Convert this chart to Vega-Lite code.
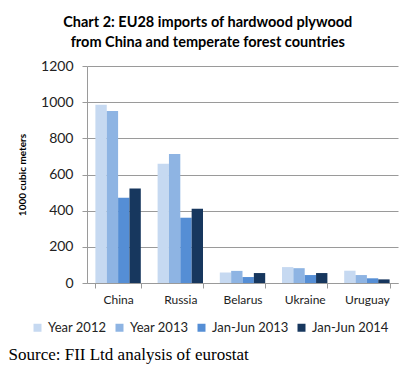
{
  "$schema": "https://vega.github.io/schema/vega-lite/v6.json",
  "autosize": {"type": "pad"},
  "padding": {"left": 8, "top": 14, "right": 5, "bottom": 5},
  "background": "white",
  "title": {
    "text": "Source: FII Ltd analysis of eurostat",
    "orient": "bottom",
    "anchor": "start",
    "frame": "bounds",
    "dx": -9,
    "offset": 12,
    "font": "Liberation Serif",
    "fontSize": 17,
    "fontWeight": "normal",
    "color": "black"
  },
  "data": {
    "values": [
      {"country": "China", "period": "Year 2012", "value": 986},
      {"country": "China", "period": "Year 2013", "value": 951},
      {"country": "China", "period": "Jan-Jun 2013", "value": 472},
      {"country": "China", "period": "Jan-Jun 2014", "value": 522},
      {"country": "Russia", "period": "Year 2012", "value": 660},
      {"country": "Russia", "period": "Year 2013", "value": 713},
      {"country": "Russia", "period": "Jan-Jun 2013", "value": 361},
      {"country": "Russia", "period": "Jan-Jun 2014", "value": 411},
      {"country": "Belarus", "period": "Year 2012", "value": 58},
      {"country": "Belarus", "period": "Year 2013", "value": 67},
      {"country": "Belarus", "period": "Jan-Jun 2013", "value": 33},
      {"country": "Belarus", "period": "Jan-Jun 2014", "value": 55},
      {"country": "Ukraine", "period": "Year 2012", "value": 88},
      {"country": "Ukraine", "period": "Year 2013", "value": 82},
      {"country": "Ukraine", "period": "Jan-Jun 2013", "value": 44},
      {"country": "Ukraine", "period": "Jan-Jun 2014", "value": 55},
      {"country": "Uruguay", "period": "Year 2012", "value": 68},
      {"country": "Uruguay", "period": "Year 2013", "value": 44},
      {"country": "Uruguay", "period": "Jan-Jun 2013", "value": 26},
      {"country": "Uruguay", "period": "Jan-Jun 2014", "value": 20}
    ]
  },
  "vconcat": [
    {
      "width": 311,
      "height": 217,
      "title": {
        "text": ["Chart 2: EU28 imports of hardwood plywood", "from China and temperate forest countries"],
        "anchor": "middle",
        "frame": "bounds",
        "font": "Lato",
        "fontSize": 14.5,
        "fontWeight": "bold",
        "color": "black",
        "lineHeight": 20,
        "offset": 9
      },
      "mark": {"type": "bar"},
      "encoding": {
        "x": {
          "field": "country",
          "type": "nominal",
          "sort": ["China", "Russia", "Belarus", "Ukraine", "Uruguay"],
          "scale": {"paddingInner": 0.27, "paddingOuter": 0.135},
          "axis": {
            "title": null,
            "labelAngle": 0,
            "tickBand": "extent",
            "ticks": true,
            "tickSize": 5,
            "tickColor": "#9a9a9a",
            "domainColor": "#9a9a9a",
            "labelFont": "Lato",
            "labelFontSize": 12,
            "labelColor": "#222222",
            "labelPadding": 6,
            "grid": false
          }
        },
        "xOffset": {
          "field": "period",
          "type": "nominal",
          "sort": ["Year 2012", "Year 2013", "Jan-Jun 2013", "Jan-Jun 2014"],
          "scale": {"paddingInner": 0, "paddingOuter": 0}
        },
        "y": {
          "field": "value",
          "type": "quantitative",
          "scale": {"domain": [0, 1200]},
          "axis": {
            "title": "1000 cubic meters",
            "titleFont": "Lato",
            "titleFontSize": 10,
            "titleFontWeight": "bold",
            "titleColor": "black",
            "titlePadding": 13,
            "values": [0, 200, 400, 600, 800, 1000, 1200],
            "format": "d",
            "labelFont": "Lato",
            "labelFontSize": 14,
            "labelColor": "#222222",
            "labelPadding": 9,
            "tickSize": 5,
            "tickColor": "#9a9a9a",
            "domainColor": "#9a9a9a",
            "gridColor": "#9a9a9a",
            "grid": true
          }
        },
        "color": {
          "field": "period",
          "type": "nominal",
          "sort": ["Year 2012", "Year 2013", "Jan-Jun 2013", "Jan-Jun 2014"],
          "scale": {
            "domain": ["Year 2012", "Year 2013", "Jan-Jun 2013", "Jan-Jun 2014"],
            "range": ["#C6D9F1", "#8EB4E3", "#558ED5", "#17375E"]
          },
          "legend": {
            "title": null,
            "orient": "none",
            "legendX": -56,
            "legendY": 255,
            "direction": "horizontal",
            "symbolType": "square",
            "symbolSize": 64,
            "symbolStrokeWidth": 0,
            "labelFont": "Lato",
            "labelFontSize": 13,
            "labelColor": "#222222",
            "labelOffset": 4,
            "columnPadding": 6
          }
        }
      }
    }
  ],
  "config": {
    "view": {"stroke": null}
  }
}
